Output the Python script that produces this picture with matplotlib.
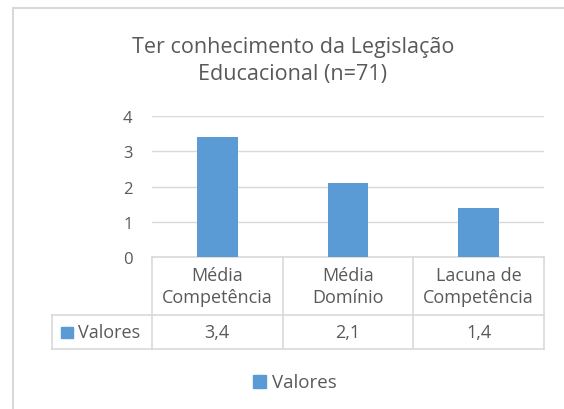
"""Bar chart with an Excel-style data table: Ter conhecimento da Legislação Educacional."""
import matplotlib
matplotlib.use("Agg")
import matplotlib.pyplot as plt
from matplotlib.patches import Rectangle
from matplotlib.transforms import blended_transform_factory

title = "Ter conhecimento da Legislação\nEducacional (n=71)"
categories = ["Média\nCompetência", "Média\nDomínio", "Lacuna de\nCompetência"]
values = [3.4, 2.1, 1.4]
series_name = "Valores"
y_ticks = [0, 1, 2, 3, 4]

bar_color = "#5B9BD5"
text_color = "#595959"
line_color = "#D9D9D9"
W, H = 564, 410

plt.rcParams["font.family"] = ["Open Sans", "DejaVu Sans"]


def fx(px):
    return px / W


def fy(py):
    return 1 - py / H


fig = plt.figure(figsize=(W / 100, H / 100), dpi=100)
fig.patch.set_facecolor("white")

# outer chart border (runs off the right and bottom edges)
fig.patches.append(Rectangle((fx(13), fy(420)), fx(600), fy(9) - fy(420),
                             transform=fig.transFigure, fill=False,
                             edgecolor=line_color, linewidth=1.5))

ax = fig.add_axes([fx(152), fy(258), fx(544) - fx(152), fy(117) - fy(258)])
x = list(range(len(categories)))
ax.bar(x, values, width=0.31, color=bar_color, zorder=3)
ax.set_xlim(-0.5, len(categories) - 0.5)
ax.set_ylim(0, 4)
ax.set_yticks(y_ticks)
ax.set_xticks([])
ax.grid(axis="y", color=line_color, linewidth=1, zorder=0)
for s in ax.spines.values():
    s.set_visible(False)
ax.tick_params(axis="y", length=0, pad=14, labelsize=12, labelcolor=text_color)

fig.text(fx(293), fy(61), title, ha="center", va="center", fontsize=15.5,
         color=text_color, linespacing=1.35)

# data table below the axis
tr = blended_transform_factory(ax.transData, fig.transFigure)
left = -0.5 - 100 / ((544 - 152) / 3)
edges = [-0.5 + i for i in range(len(categories) + 1)]
y_top, y_mid, y_bot = fy(258), fy(316), fy(350)
kw = dict(color=line_color, linewidth=1.2, transform=tr, clip_on=False)
ax.plot([edges[0], edges[-1]], [y_top, y_top], **kw)
ax.plot([left, edges[-1]], [y_mid, y_mid], **kw)
ax.plot([left, edges[-1]], [y_bot, y_bot], **kw)
ax.plot([left, left], [y_mid, y_bot], **kw)
for e in edges:
    ax.plot([e, e], [y_top, y_bot], **kw)

for i, (cat, val) in enumerate(zip(categories, values)):
    ax.text(i, fy(287), cat, ha="center", va="center", fontsize=13,
            color=text_color, transform=tr, linespacing=1.3)
    ax.text(i, fy(333), f"{val:.1f}".replace(".", ","), ha="center",
            va="center", fontsize=13, color=text_color, transform=tr)

fig.patches.append(Rectangle((fx(61), fy(339)), fx(12), fy(328) - fy(339),
                             transform=fig.transFigure, color=bar_color))
fig.text(fx(78), fy(333), series_name, ha="left", va="center", fontsize=13,
         color=text_color)

# legend at the bottom
fig.patches.append(Rectangle((fx(253), fy(389)), fx(13), fy(376) - fy(389),
                             transform=fig.transFigure, color=bar_color))
fig.text(fx(272), fy(383), series_name, ha="left", va="center", fontsize=13.5,
         color=text_color)

fig.savefig("out.png", dpi=100)
